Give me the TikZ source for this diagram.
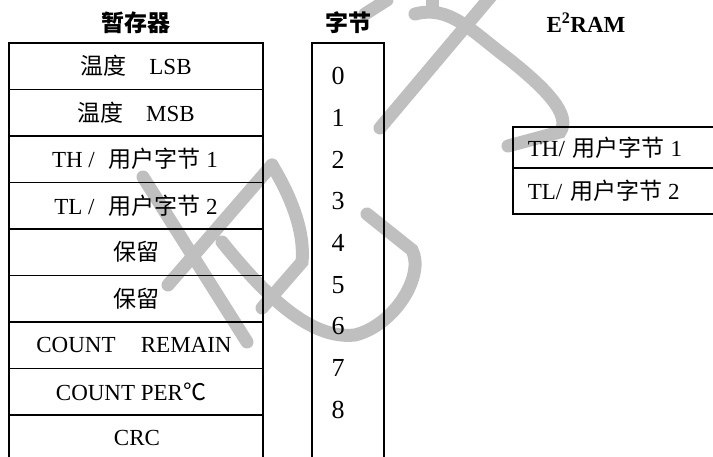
\documentclass[tikz,border=0pt]{standalone}
\usepackage{fontspec}
\setmainfont{Liberation Serif}
\newfontfamily\cjk{Noto Sans CJK SC}
\usetikzlibrary{positioning}
\newcommand{\zh}[1]{{\cjk #1}}

\begin{document}
\begin{tikzpicture}[x=1pt,y=-1pt,line width=1.7pt,
  txt/.style={font=\fontsize{23}{27}\selectfont,inner sep=0pt},
  digit/.style={font=\fontsize{26}{30}\selectfont,inner sep=0pt},
  head/.style={font=\fontsize{23}{27}\selectfont\bfseries,inner sep=0pt},
  wm/.style={line width=13pt,draw=black!25,line cap=round}]
  \useasboundingbox (0,0) rectangle (713,457);
  % watermark behind everything
  \draw[wm] (387,0) -- (365,14);
  \draw[wm] (432,0) -- (432,8);
  \draw[wm] (492,-5) -- (380,128);
  \draw[wm] (415,14) .. controls (450,5) and (470,30) .. (510,60)
     .. controls (545,88) and (572,115) .. (560,132) -- (508,146);
  \draw[wm] (143,177) -- (247,342);
  \draw[wm] (272,165) -- (168,285);
  \draw[wm] (272,165) .. controls (290,195) and (305,230) .. (302,262) -- (262,308);
  \draw[wm] (222,242) .. controls (265,295) and (310,340) .. (355,335)
     .. controls (395,325) and (425,275) .. (412,250) -- (367,214);

  % scratchpad
  \node[head] (sp) at (136,23) {\zh{暂存器}};
  \draw (9,470) -- (9,43) -- (263,43) -- (263,470);
  \foreach \y in {89.5,136,182.5,229,275.5,322,368.5,415}
    \draw (9,\y) -- (263,\y);
  \node[txt] (r1) at (136,66) {\zh{温度}\hspace{1em}LSB};
  \node[txt] (r2) at (136,112.5) {\zh{温度}\hspace{1em}MSB};
  \node[txt] (r3) at (135,159) {TH /\hspace{0.6em}\zh{用户字节} 1};
  \node[txt] (r4) at (136,205.5) {TL /\hspace{0.6em}\zh{用户字节} 2};
  \node[txt] (r5) at (136,252) {\zh{保留}};
  \node[txt] (r6) at (136,298.5) {\zh{保留}};
  \node[txt] (r7) at (134,345) {COUNT\hspace{1.1em}REMAIN};
  \node[txt] (r8) at (131,391.5) {COUNT PER\zh{℃}};
  \node[txt] (r9) at (137,438) {CRC};

  % byte numbers
  \node[head] (bt) at (348,23) {\zh{字节}};
  \draw (312,470) -- (312,43) -- (384,43) -- (384,470);
  \foreach \d in {0,...,8}
    \node[digit] (b\d) at (338,{76+41.75*\d}) {\d};

  % eeprom
  \node[head] (ee) at (586,23) {E\textsuperscript{2}RAM};
  \draw (720,127) -- (513,127) -- (513,214) -- (720,214);
  \draw (513,168) -- (720,168);
  \node[txt,anchor=west] (e1) at (527,148) {TH/\hspace{0.35em}\zh{用户字节} 1};
  \node[txt,anchor=west] (e2) at (527,191) {TL/\hspace{0.35em}\zh{用户字节} 2};
\end{tikzpicture}
\end{document}
